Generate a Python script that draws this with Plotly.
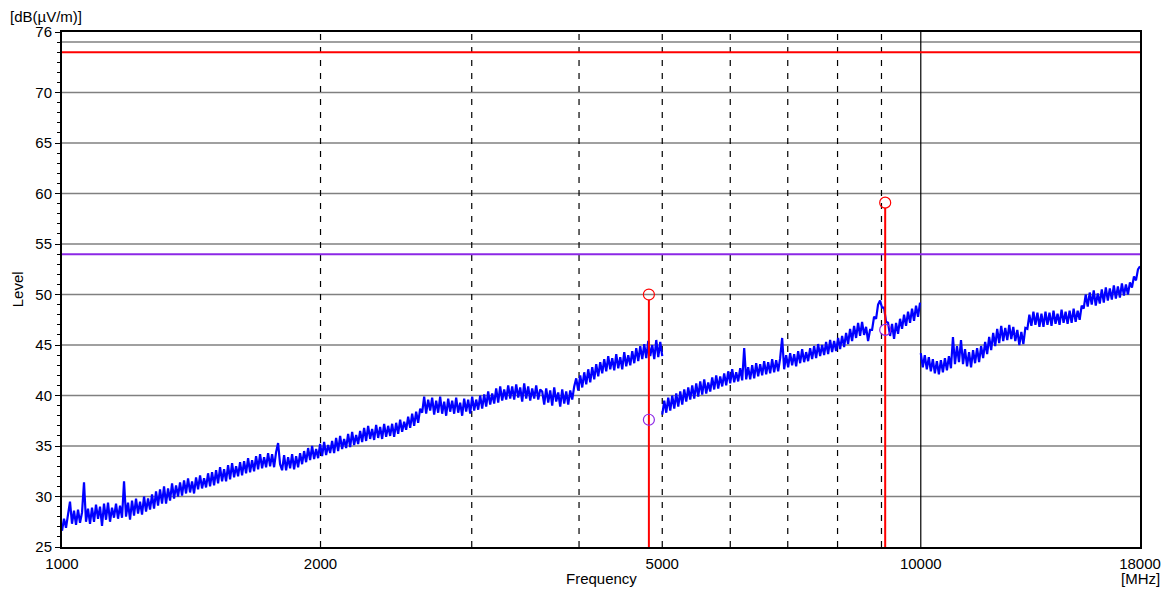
import numpy as np
import plotly.graph_objects as go

# ---------------- data ----------------
seg1_range = [1000, 5000]
seg2_range = [5000, 9980]
seg3_range = [10000, 18000]

seg1_level = [
    26.6, 27.8, 26.9, 28.1, 29.5, 27.3, 28.6, 27.2, 28.7, 27.4, 28.4, 31.4, 27.5, 28.8, 27.3,
    28.9, 27.5, 29.2, 27.8, 29.0, 27.1, 29.3, 27.7, 29.4, 27.5, 28.9, 27.9, 29.3, 27.8, 29.1,
    27.9, 31.5, 28.0, 29.4, 27.7, 29.6, 28.1, 29.8, 28.3, 29.5, 28.2, 30.0, 28.5, 29.8, 28.7,
    30.2, 28.8, 30.5, 29.1, 30.7, 29.3, 31.0, 29.3, 30.8, 29.6, 31.3, 29.8, 31.1, 30.0, 31.4,
    30.1, 31.6, 30.3, 31.8, 30.4, 31.5, 30.3, 31.9, 30.7, 32.1, 30.8, 31.8, 30.9, 32.3, 31.0,
    32.4, 31.1, 32.6, 31.3, 32.9, 31.5, 32.7, 31.5, 33.1, 31.7, 33.3, 31.9, 33.0, 32.0, 33.4,
    32.1, 33.5, 32.3, 33.8, 32.4, 33.6, 32.5, 34.0, 32.7, 34.2, 32.8, 33.9, 32.9, 34.3, 33.0,
    34.2, 32.9, 34.4, 35.3, 33.2, 32.6, 34.1, 32.6, 33.9, 32.8, 34.2, 32.7, 34.0, 32.9, 34.3,
    33.2, 34.5, 33.4, 34.8, 33.6, 35.0, 33.7, 34.7, 33.8, 35.2, 34.0, 35.4, 34.1, 35.1, 34.3,
    35.5, 34.3, 35.8, 34.5, 36.0, 34.7, 35.7, 34.8, 36.2, 34.9, 36.4, 35.1, 36.1, 35.2, 36.5,
    35.4, 36.8, 35.5, 37.0, 35.7, 36.7, 35.6, 37.1, 35.8, 36.9, 35.7, 37.2, 35.9, 37.0, 36.0,
    37.2, 35.9, 37.3, 36.2, 37.6, 36.4, 37.4, 36.6, 37.9, 36.8, 38.2, 37.0, 38.4, 37.3, 38.7,
    38.3, 39.9, 38.2, 39.6, 38.5, 39.8, 38.1, 39.5, 38.3, 39.9, 38.2, 39.4, 38.0, 39.7, 38.4,
    39.5, 38.2, 39.8, 38.3, 39.3, 38.0, 39.7, 38.4, 39.6, 38.2, 39.9, 38.5, 39.6, 38.6, 40.0,
    38.7, 40.1, 38.9, 40.4, 39.1, 40.2, 39.2, 40.7, 39.3, 40.9, 39.5, 40.6, 39.6, 41.0, 39.7,
    40.9, 39.6, 41.1, 39.8, 40.8, 39.4, 41.2, 39.7, 40.9, 39.5, 40.7, 39.7, 41.0, 39.6, 40.6,
    40.4, 39.1, 40.7, 39.3, 40.5, 39.0, 40.8, 39.4, 40.3, 38.9, 40.6, 39.2, 40.4, 39.1, 40.5,
    39.6, 40.9, 41.7, 40.5, 42.0, 40.8, 42.3, 41.1, 42.6, 41.3, 42.8, 41.6, 43.1, 41.9, 43.3,
    42.2, 43.6, 42.4, 43.9, 42.6, 43.7, 42.5, 44.1, 42.7, 43.8, 42.6, 44.3, 42.9, 44.0, 43.0,
    44.4, 43.2, 44.7, 43.4, 44.9, 43.6, 45.1, 43.7, 45.4, 43.9, 45.0, 43.6, 45.5, 43.8, 45.3,
    43.9,
]

seg2_level = [
    38.1, 39.5, 38.3, 39.8, 38.5, 40.0, 38.7, 40.2, 38.9, 40.4, 39.1, 40.6, 39.4, 40.8, 39.6,
    41.0, 39.7, 41.2, 39.9, 41.4, 40.1, 41.6, 40.2, 41.3, 40.4, 41.8, 40.6, 42.0, 40.7, 41.9,
    40.9, 42.2, 41.0, 42.4, 41.2, 42.6, 41.3, 42.3, 41.4, 42.7, 41.5, 44.7, 41.6, 42.8, 41.6,
    43.0, 41.7, 43.2, 41.9, 43.1, 42.0, 43.4, 42.1, 43.3, 42.2, 43.6, 42.3, 43.5, 42.4, 43.7,
    45.7, 42.6, 44.0, 42.8, 44.2, 43.0, 44.1, 42.9, 44.4, 43.2, 44.6, 43.3, 44.3, 43.4, 44.7,
    43.6, 44.9, 43.7, 45.1, 43.9, 45.0, 44.0, 45.3, 44.1, 45.5, 44.3, 45.4, 44.4, 45.7, 44.6,
    45.9, 44.8, 46.2, 45.1, 46.6, 45.4, 46.9, 45.7, 47.2, 45.9, 47.3, 46.0, 46.8, 45.4, 46.5,
    46.5, 47.8, 47.6, 49.0, 49.4, 48.7, 48.7, 47.3, 47.2, 45.9, 47.1, 45.6, 47.2, 46.1, 47.6,
    46.6, 48.0, 46.9, 48.3, 47.2, 48.6, 47.4, 48.9, 47.8, 49.2,
]

seg3_level = [
    44.2, 42.8, 44.0, 42.6, 43.8, 42.4, 43.6, 42.2, 43.4, 42.1, 43.5, 42.3, 43.7, 42.5, 43.9,
    42.7, 45.8, 43.1, 44.9, 43.3, 45.5, 43.1, 44.6, 42.9, 44.3, 42.8, 44.5, 43.2, 44.7, 43.3,
    44.9, 43.7, 45.3, 44.1, 45.8, 44.5, 46.2, 44.9, 46.6, 45.2, 46.9, 45.4, 46.7, 45.5, 47.0,
    45.6, 46.8, 45.4, 46.5, 45.0, 46.3, 45.1, 46.7, 46.6, 48.0, 46.9, 48.3, 47.0, 48.2, 46.8,
    48.1, 46.8, 48.3, 47.0, 48.2, 46.9, 48.4, 47.1, 48.1, 47.0, 48.5, 47.2, 48.3, 47.1, 48.4,
    47.2, 48.6, 47.3, 48.4, 47.5, 48.9, 48.6, 50.0, 48.8, 50.2, 49.0, 50.4, 48.9, 50.1, 49.1,
    50.5, 49.2, 50.7, 49.4, 50.6, 49.5, 50.9, 49.6, 50.8, 49.7, 51.1, 49.9, 51.0, 50.0, 51.2,
    50.7, 51.8, 51.4, 52.5, 52.8,
]

# Limit lines
limit_peak = 74
limit_avg = 54

# Final measurement points
final_freq = [4824, 9090]
final_peak = [50.0, 59.1]
final_avg = [37.6, 46.5]

# Axis
x_ticks = [1000, 2000, 5000, 10000, 18000]
x_ticktext = ["1000", "2000", "5000", "10000", "18000"]
y_ticks = [25, 30, 35, 40, 45, 50, 55, 60, 65, 70, 76]
y_grid = [30, 35, 40, 45, 50, 55, 60, 65, 70, 75]
x_dashed = [2000, 3000, 4000, 5000, 6000, 7000, 8000, 9000]
x_solid = [10000]

# ---------------- figure ----------------
FONT = "Arial, Liberation Sans, sans-serif"
BLUE = "#0000ff"
RED = "#ff0000"
PURPLE = "#8c28e6"
fig = go.Figure()

# Grid lines (behind everything)
for g in y_grid:
    fig.add_trace(go.Scatter(x=[1000, 18000], y=[g, g], mode="lines",
                             line=dict(color="#808080", width=1.5),
                             showlegend=False, hoverinfo="skip"))
for xv in x_dashed:
    fig.add_trace(go.Scatter(x=[xv, xv], y=[25, 76], mode="lines",
                             line=dict(color="#000000", width=1.2, dash="6px,7px"),
                             showlegend=False, hoverinfo="skip"))
for xv in x_solid:
    fig.add_trace(go.Scatter(x=[xv, xv], y=[25, 76], mode="lines",
                             line=dict(color="#000000", width=1.2),
                             showlegend=False, hoverinfo="skip"))

for rng, lev in [(seg1_range, seg1_level), (seg2_range, seg2_level), (seg3_range, seg3_level)]:
    f = np.geomspace(rng[0], rng[1], len(lev))
    fig.add_trace(go.Scatter(x=f, y=lev, mode="lines",
                             line=dict(color=BLUE, width=2.2),
                             showlegend=False, hoverinfo="skip"))

# Limit lines
fig.add_trace(go.Scatter(x=[1000, 18000], y=[limit_peak, limit_peak], mode="lines",
                         line=dict(color=RED, width=2), showlegend=False))
fig.add_trace(go.Scatter(x=[1000, 18000], y=[limit_avg, limit_avg], mode="lines",
                         line=dict(color=PURPLE, width=2), showlegend=False))

# Stems
for f0, p in zip(final_freq, final_peak):
    fig.add_trace(go.Scatter(x=[f0, f0], y=[25, p - 0.5], mode="lines",
                             line=dict(color=RED, width=2), showlegend=False))
fig.add_trace(go.Scatter(x=final_freq, y=final_peak, mode="markers",
                         marker=dict(symbol="circle-open", size=11, color=RED,
                                     line=dict(width=1.2, color=RED)),
                         showlegend=False))
fig.add_trace(go.Scatter(x=final_freq, y=final_avg, mode="markers",
                         marker=dict(symbol="circle-open", size=11, color=PURPLE,
                                     line=dict(width=1.2, color=PURPLE)),
                         showlegend=False))

fig.update_layout(
    width=1169, height=590,
    margin=dict(l=62, r=29, t=32, b=43, autoexpand=False),
    paper_bgcolor="white", plot_bgcolor="white",
    font=dict(family=FONT, size=15, color="#000000"),
    showlegend=False,
    annotations=[
        dict(text="[dB(µV/m)]", xref="paper", yref="paper", x=-0.05, y=1.031,
             xanchor="left", yanchor="middle", showarrow=False),
        dict(text="Level", xref="paper", yref="paper", x=-0.041, y=0.5,
             xanchor="center", yanchor="middle", textangle=-90, showarrow=False),
        dict(text="Frequency", xref="paper", yref="paper", x=0.5, y=-0.061,
             xanchor="center", yanchor="middle", showarrow=False),
        dict(text="[MHz]", xref="paper", yref="paper", x=1.0, y=-0.061,
             xanchor="center", yanchor="middle", showarrow=False),
    ],
)

fig.update_xaxes(type="log", range=[np.log10(1000), np.log10(18000)],
                 tickvals=x_ticks, ticktext=x_ticktext, showgrid=False,
                 showline=True, linecolor="#000000", linewidth=2, mirror=True,
                 ticks="", zeroline=False, ticklabelstandoff=2, automargin=False)
fig.update_yaxes(range=[25, 76], tickvals=y_ticks, showgrid=False,
                 showline=True, linecolor="#000000", linewidth=2, mirror=True,
                 ticks="outside", ticklen=5, tickcolor="#000000", zeroline=False,
                 automargin=False,
                 minor=dict(dtick=1, tick0=25, ticks="outside", ticklen=3,
                            tickcolor="#000000", showgrid=False))

# remove the default page margin so the figure sits at the window's corner
fig.write_html("out.html", config={"displayModeBar": False},
               post_script="document.body.style.margin='0px';"
                           "document.body.style.overflow='hidden';")
